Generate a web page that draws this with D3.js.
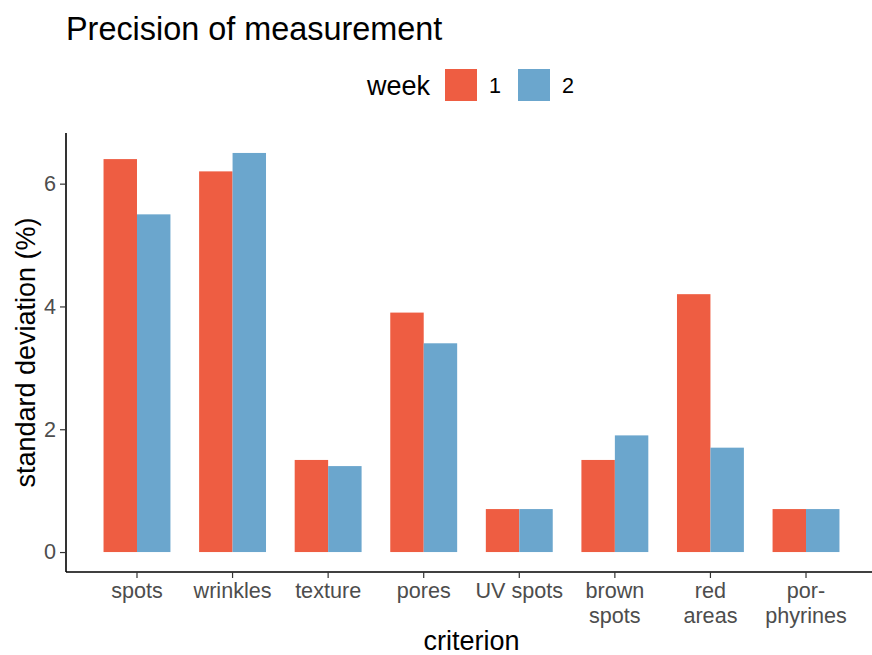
<!DOCTYPE html>
<html>
<head>
<meta charset="utf-8">
<script src="https://cdn.jsdelivr.net/npm/d3@7"></script>
<style>
  body { margin: 0; background: #fff; }
  svg { display: block; font-family: "Liberation Sans", Arial, Helvetica, sans-serif; }
</style>
</head>
<body>
<svg id="chart" width="872" height="655"></svg>
<script>
const categories = ["spots", "wrinkles", "texture", "pores", "UV spots", "brown\nspots", "red\nareas", "por-\nphyrines"];
const weeks = ["1", "2"];
const week1 = [6.4, 6.2, 1.5, 3.9, 0.7, 1.5, 4.2, 0.7];
const week2 = [5.5, 6.5, 1.4, 3.4, 0.7, 1.9, 1.7, 0.7];
const yTicks = [0, 2, 4, 6];
const colors = ["#EE5D42", "#6BA6CD"];

const svg = d3.select("#chart");
const panel = { left: 66, right: 877, top: 133, bottom: 572 };

const x = d3.scaleBand()
  .domain(categories)
  .range([89.2, 853.8])
  .paddingInner(0.3)
  .paddingOuter(0.15);

const xSub = d3.scaleBand().domain(weeks).range([0, x.bandwidth()]);

const y = d3.scaleLinear()
  .domain([-0.325, 6.825])
  .range([panel.bottom, panel.top]);

const data = [];
categories.forEach((c, i) => {
  data.push({ cat: c, week: "1", v: week1[i] });
  data.push({ cat: c, week: "2", v: week2[i] });
});
const color = d3.scaleOrdinal().domain(weeks).range(colors);

// bars
svg.append("g").selectAll("rect").data(data).join("rect")
  .attr("x", d => x(d.cat) + xSub(d.week))
  .attr("width", xSub.bandwidth())
  .attr("y", d => y(d.v))
  .attr("height", d => y(0) - y(d.v))
  .attr("fill", d => color(d.week));

// y axis
const yAxis = svg.append("g")
  .attr("transform", `translate(${panel.left},0)`)
  .call(d3.axisLeft(y).tickValues(yTicks).tickSize(6).tickPadding(4).tickFormat(d3.format("d")));
yAxis.select(".domain").attr("stroke", "#000").attr("stroke-width", 1.6)
  .attr("d", `M0,${panel.top}V${panel.bottom}`);
yAxis.selectAll(".tick line").attr("stroke", "#333").attr("stroke-width", 1.2);
yAxis.selectAll(".tick text").attr("fill", "#4D4D4D").style("font-size", "21.6px");

// x axis
const xAxis = svg.append("g")
  .attr("transform", `translate(0,${panel.bottom})`)
  .call(d3.axisBottom(x).tickSize(6).tickFormat(""));
xAxis.select(".domain").attr("stroke", "#000").attr("stroke-width", 1.6)
  .attr("d", `M${panel.left},0H${panel.right}`);
xAxis.selectAll(".tick line").attr("stroke", "#333").attr("stroke-width", 1.2);

// x tick labels (multi-line)
const xl = svg.append("g").selectAll("text").data(categories).join("text")
  .attr("x", d => x(d) + x.bandwidth() / 2)
  .attr("y", 598)
  .attr("text-anchor", "middle")
  .attr("fill", "#4D4D4D")
  .style("font-size", "21.6px");
xl.each(function(d) {
  const lines = d.split("\n");
  d3.select(this).selectAll("tspan").data(lines).join("tspan")
    .attr("x", x(d) + x.bandwidth() / 2)
    .attr("dy", (l, i) => i === 0 ? 0 : 24.5)
    .text(l => l);
});

// axis titles
svg.append("text")
  .attr("x", (x(categories[0]) + x(categories[7]) + x.bandwidth()) / 2)
  .attr("y", 650)
  .attr("text-anchor", "middle")
  .style("font-size", "27px")
  .attr("fill", "#000")
  .text("criterion");

svg.append("text")
  .attr("transform", `translate(35,${(panel.top + panel.bottom) / 2}) rotate(-90)`)
  .attr("text-anchor", "middle")
  .style("font-size", "27px")
  .attr("fill", "#000")
  .text("standard deviation (%)");

// title
svg.append("text")
  .attr("x", 66)
  .attr("y", 40)
  .style("font-size", "32.4px")
  .attr("fill", "#000")
  .text("Precision of measurement");

// legend
const lg = svg.append("g");
lg.append("text").attr("x", 367).attr("y", 95).style("font-size", "27px").attr("fill", "#000").text("week");
const keyX = [445, 518];
weeks.forEach((w, i) => {
  lg.append("rect").attr("x", keyX[i]).attr("y", 69).attr("width", 32).attr("height", 32).attr("fill", color(w));
  lg.append("text").attr("x", keyX[i] + 44).attr("y", 93).style("font-size", "21.6px").attr("fill", "#000").text(w);
});
</script>
</body>
</html>
